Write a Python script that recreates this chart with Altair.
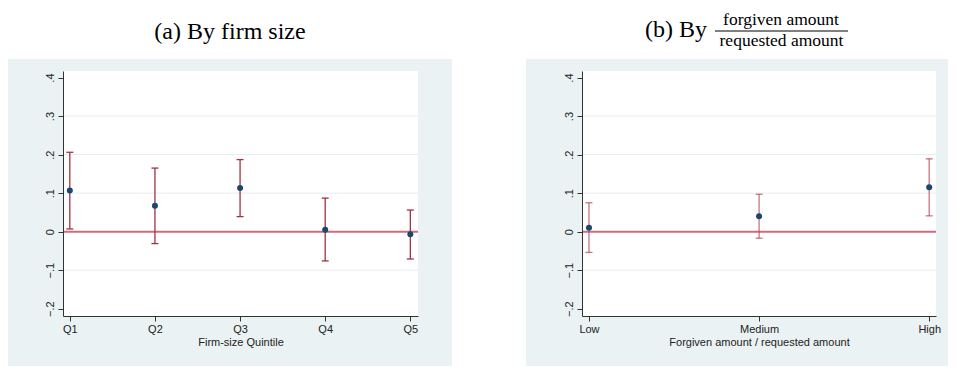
import altair as alt
import pandas as pd

# ---- data ----
size_cats = ["Q1", "Q2", "Q3", "Q4", "Q5"]
size_est = [0.107, 0.067, 0.113, 0.005, -0.007]
size_lo = [0.007, -0.031, 0.039, -0.076, -0.071]
size_hi = [0.206, 0.165, 0.187, 0.087, 0.056]

ratio_cats = ["Low", "Medium", "High"]
ratio_est = [0.010, 0.040, 0.115]
ratio_lo = [-0.054, -0.017, 0.041]
ratio_hi = [0.075, 0.097, 0.189]

y_ticks = [-0.2, -0.1, 0, 0.1, 0.2, 0.3, 0.4]
grid_vals = [-0.1, 0.1, 0.2, 0.3]
zero_val = [0]

BG = "#eaf2f3"
GRID = "#e6eef0"
ZERO = "#cd6b80"
NAVY = "#1a476f"
H = 245
YDOM = [-0.219, 0.417]

y_label_expr = ("datum.value == 0 ? '0' : replace(format(datum.value, '.1f'), '0.', '.')")


def yenc(field):
    return alt.Y(
        field,
        scale=alt.Scale(domain=YDOM, nice=False, zero=False),
        axis=alt.Axis(values=y_ticks, labelExpr=y_label_expr, title=None, grid=False,
                      labelAngle=270, labelAlign="center", labelBaseline="bottom",
                      tickSize=5, labelPadding=3, zindex=2),
    )


def panel(cats, est, lo, hi, W, xdom, xtitle, bg_left, bg_right, ci_color, ci_opacity, titles):
    n = len(cats)
    df = pd.DataFrame({"pos": list(range(1, n + 1)), "cat": cats, "est": est, "lo": lo, "hi": hi})
    arr = "[" + ",".join("'" + c + "'" for c in [""] + cats) + "]"
    xenc = alt.X(
        "pos:Q",
        scale=alt.Scale(domain=xdom, nice=False, zero=False),
        axis=alt.Axis(values=list(range(1, n + 1)), labelExpr=arr + "[datum.value]",
                      title=xtitle, grid=False, tickSize=5, labelPadding=2, titlePadding=2,
                      labelAngle=0, zindex=2),
    )
    one = pd.DataFrame({"k": [0]})
    top = alt.Chart(one).mark_rect(color="white").encode(
        x=alt.value(bg_left), x2=alt.value(W + bg_right), y=alt.value(-63), y2=alt.value(-12))
    bg = alt.Chart(one).mark_rect(color=BG).encode(
        x=alt.value(bg_left), x2=alt.value(W + bg_right), y=alt.value(-12), y2=alt.value(H + 50))
    plot_bg = alt.Chart(one).mark_rect(color="white").encode(
        x=alt.value(0), x2=alt.value(W), y=alt.value(0), y2=alt.value(H))
    grid = alt.Chart(pd.DataFrame({"g": grid_vals})).mark_rule(color=GRID, strokeWidth=1).encode(
        y=yenc("g:Q"))
    zero = alt.Chart(pd.DataFrame({"z": zero_val})).mark_rule(color=ZERO, strokeWidth=2).encode(
        y=yenc("z:Q"))
    base = alt.Chart(df)
    bars = base.mark_rule(color=ci_color, strokeWidth=1.3, opacity=ci_opacity).encode(
        x=xenc, y=yenc("lo:Q"), y2="hi:Q")
    cap_lo = base.mark_tick(color=ci_color, orient="horizontal", size=7, thickness=1.3,
                            opacity=ci_opacity).encode(x=xenc, y=yenc("lo:Q"))
    cap_hi = base.mark_tick(color=ci_color, orient="horizontal", size=7, thickness=1.3,
                            opacity=ci_opacity).encode(x=xenc, y=yenc("hi:Q"))
    pts = base.mark_circle(color=NAVY, size=36, opacity=1).encode(x=xenc, y=yenc("est:Q"))
    layers = [top, bg, plot_bg, grid, zero, bars, cap_lo, cap_hi, pts] + titles
    return alt.layer(*layers).properties(width=W, height=H)


def title_text(txt, x, y, size, align="center"):
    return alt.Chart(pd.DataFrame({"t": [txt]})).mark_text(
        font="Liberation Serif", fontSize=size, align=align, baseline="alphabetic", color="black"
    ).encode(text="t:N", x=alt.value(x), y=alt.value(y))


left_titles = [title_text("(a) By firm size", 167, -32, 24)]
frac_line = alt.Chart(pd.DataFrame({"k": [0]})).mark_rule(color="black", strokeWidth=1).encode(
    x=alt.value(133), x2=alt.value(266), y=alt.value(-40))
right_titles = [
    title_text("(b) By", 63, -34, 24, align="left"),
    title_text("forgiven amount", 199, -46, 17.5),
    title_text("requested amount", 199.5, -25, 17.5),
    frac_line,
]

left = panel(size_cats, size_est, size_lo, size_hi, 355, [0.92, 5.09], "Firm-size Quintile",
             -55, 34, "#a3323f", 1.0, left_titles)
right = panel(ratio_cats, ratio_est, ratio_lo, ratio_hi, 354, [0.959, 3.04],
              "Forgiven amount / requested amount", -56, 12, "#b5485a", 0.75, right_titles)

chart = alt.hconcat(left, right, spacing=164, bounds="flush").properties(
    padding=0
).configure_view(stroke=None).configure_axis(
    domainColor="#333333", tickColor="#333333", labelColor="#222222",
    labelFont="Liberation Sans", labelFontSize=11, titleFont="Liberation Sans",
    titleFontSize=11, titleFontWeight="normal", titleColor="#222222",
)

chart.save("out.html", embed_options={"renderer": "svg", "actions": False})
